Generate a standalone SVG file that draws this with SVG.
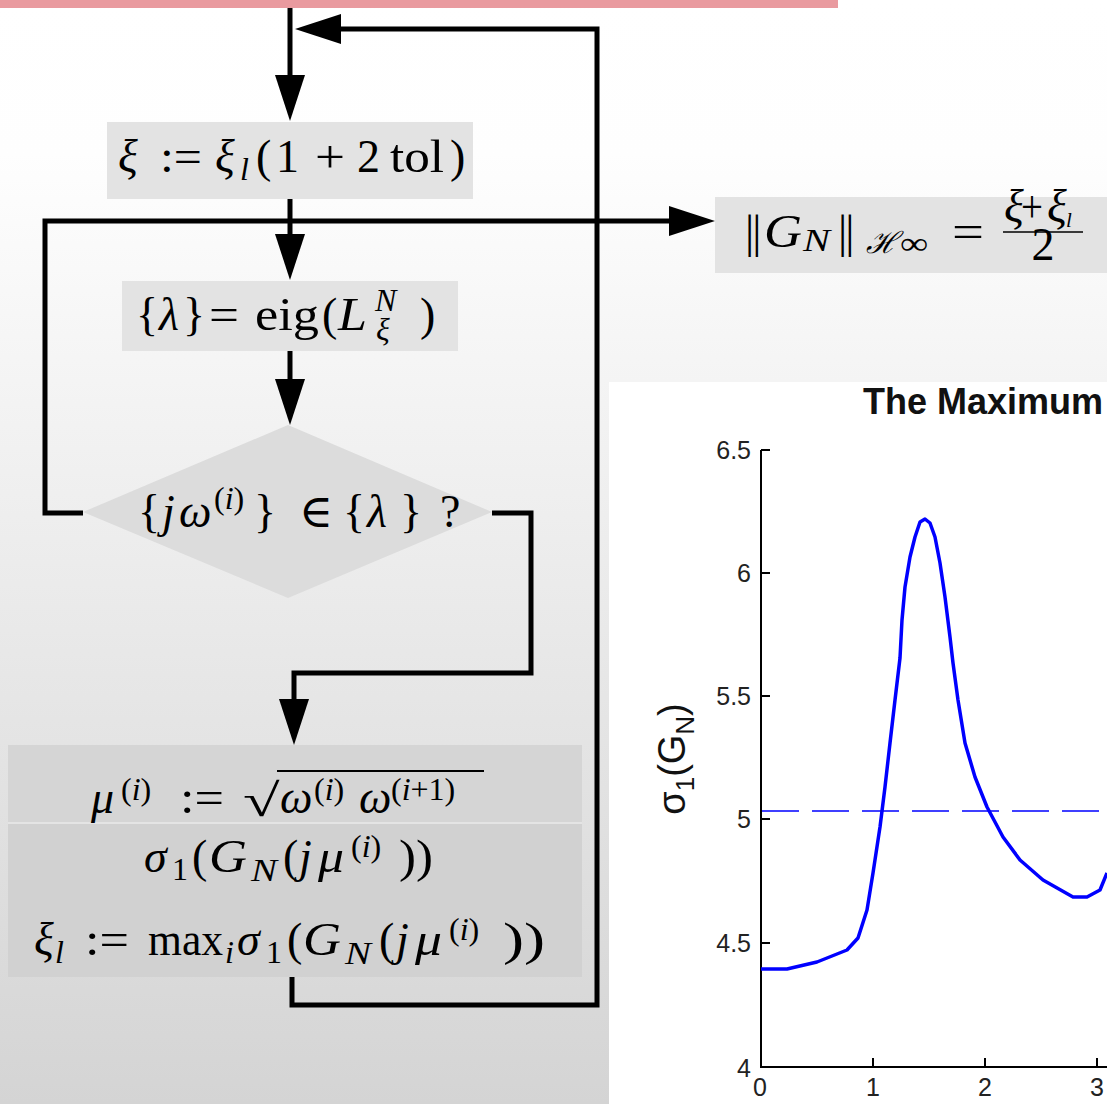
<svg xmlns="http://www.w3.org/2000/svg" width="1107" height="1104" viewBox="0 0 1107 1104">
<defs>
<linearGradient id="bg" x1="0" y1="0" x2="0" y2="1104" gradientUnits="userSpaceOnUse">
<stop offset="0" stop-color="#ffffff"/>
<stop offset="0.14" stop-color="#fefefe"/>
<stop offset="1" stop-color="#d4d4d4"/>
</linearGradient>
<marker id="ah" markerUnits="userSpaceOnUse" markerWidth="46" markerHeight="30" viewBox="0 0 46 30" refX="2" refY="15" orient="auto">
<path d="M0,0 L46,15 L0,30 z" fill="#000"/>
</marker>
<style>
.m { font-family: 'Liberation Serif','DejaVu Serif',serif; font-size: 46px; fill: #000; }
.i { font-style: italic; }
.s { font-size: 32px; }
.conn { fill: none; stroke: #000; stroke-width: 5; stroke-linejoin: miter; }
.box { fill: #e3e3e3; }
.tick { font-family: 'Liberation Sans', Arial, sans-serif; font-size: 25px; fill: #222; }
.ax { stroke: #000; stroke-width: 2; fill: none; }
</style>
</defs>
<rect x="0" y="0" width="1107" height="1104" fill="url(#bg)"/>
<rect x="0" y="0" width="838" height="8" fill="#e99a9f"/>

<g id="plot">
<rect x="609" y="382" width="498" height="722" fill="#ffffff"/>
<text x="863" y="414" font-family="'Liberation Sans', Arial, sans-serif" font-size="36" font-weight="bold" fill="#111">The Maximum</text>
<path class="ax" d="M761,450 V1067 H1107"/>
<path class="ax" d="M761,450 H770 M761,573 H770 M761,696 H770 M761,819 H770 M761,943 H770 M873,1067 V1058 M985,1067 V1058 M1097,1067 V1058"/>
<g class="tick" text-anchor="end">
<text x="751" y="459">6.5</text>
<text x="751" y="582">6</text>
<text x="751" y="705">5.5</text>
<text x="751" y="828">5</text>
<text x="751" y="952">4.5</text>
<text x="751" y="1077">4</text>
</g>
<g class="tick" text-anchor="middle">
<text x="760" y="1096">0</text>
<text x="873" y="1096">1</text>
<text x="985" y="1096">2</text>
<text x="1097" y="1096">3</text>
</g>
<text transform="translate(685,759) rotate(-90)" text-anchor="middle" font-family="'Liberation Sans', Arial, sans-serif" font-size="38" fill="#111">σ<tspan font-size="26" dy="9">1</tspan><tspan dy="-9">(G</tspan><tspan font-size="26" dy="9">N</tspan><tspan dy="-9">)</tspan></text>
<line x1="762" y1="811" x2="1107" y2="811" stroke="#0000ff" stroke-width="1.5" stroke-dasharray="37 13"/>
<polyline fill="none" stroke="#0000ff" stroke-width="3.5" stroke-linejoin="round" points="761,969 787,969 817,962 847,950 858,938 867,910 873,873 880,827 885,787 890,743 895,700 900,658 902,620 905,587 910,557 915,537 920,522 925,519 930,523 935,537 940,563 945,597 950,637 953,663 958,700 965,743 975,777 987,807 1003,837 1020,860 1043,880 1073,897 1087,897 1100,890 1107,873"/>
</g>

<g id="n_init">
<rect class="box" x="107" y="122" width="366" height="77"/>
<text class="m" y="172"><tspan class="i" x="118">ξ</tspan><tspan x="160" textLength="42" lengthAdjust="spacingAndGlyphs">:=</tspan><tspan class="i" x="215">ξ</tspan><tspan class="i s" x="240" y="180">l</tspan><tspan x="256" y="172">(</tspan><tspan x="276">1</tspan><tspan x="315" textLength="30" lengthAdjust="spacingAndGlyphs">+</tspan><tspan x="357">2</tspan><tspan x="390" textLength="54" lengthAdjust="spacingAndGlyphs">tol</tspan><tspan x="450">)</tspan></text>
</g>

<g id="n_eig">
<rect class="box" x="122" y="281" width="336" height="70"/>
<text class="m" y="330"><tspan x="136">{</tspan><tspan class="i" x="159">λ</tspan><tspan x="183">}</tspan><tspan x="209" textLength="30" lengthAdjust="spacingAndGlyphs">=</tspan><tspan x="255" textLength="64" lengthAdjust="spacingAndGlyphs">eig</tspan><tspan x="322">(</tspan><tspan class="i" x="338" textLength="29" lengthAdjust="spacingAndGlyphs">L</tspan><tspan class="i s" x="375" y="311">N</tspan><tspan class="i s" x="376" y="340">ξ</tspan><tspan x="420" y="330">)</tspan></text>
</g>

<g id="n_check">
<polygon points="288,425 492,512 288,598 83,512" fill="#dcdcdc"/>
<text class="m" y="527"><tspan x="138">{</tspan><tspan class="i" x="162">j</tspan><tspan class="i" x="179">ω</tspan><tspan class="s" x="214" y="509">(</tspan><tspan class="s i">i</tspan><tspan class="s">)</tspan><tspan x="254" y="527">}</tspan><tspan x="299">∈</tspan><tspan x="343">{</tspan><tspan class="i" x="367">λ</tspan><tspan x="400">}</tspan><tspan x="440">?</tspan></text>
</g>

<g id="n_out">
<rect class="box" x="715" y="197" width="392" height="76"/>
<text class="m" y="247"><tspan x="745" letter-spacing="-2">||</tspan><tspan class="i" x="764" textLength="38" lengthAdjust="spacingAndGlyphs">G</tspan><tspan class="i s" x="803" y="251" textLength="27" lengthAdjust="spacingAndGlyphs">N</tspan><tspan x="838" y="247" letter-spacing="-2">||</tspan><tspan x="866" y="253" font-family="'DejaVu Serif',serif" font-style="italic" font-size="30">ℋ</tspan><tspan class="s" x="900" y="254" textLength="28" lengthAdjust="spacingAndGlyphs">∞</tspan><tspan x="952" y="247" textLength="32" lengthAdjust="spacingAndGlyphs">=</tspan></text>
<text class="m" font-size="30" y="222"><tspan class="i" x="1004">ξ</tspan><tspan x="1021" textLength="22" lengthAdjust="spacingAndGlyphs">+</tspan><tspan class="i" x="1047">ξ</tspan><tspan class="i" font-size="21" x="1066" y="227">l</tspan></text>
<line x1="1003" y1="232" x2="1083" y2="232" stroke="#000" stroke-width="1.5"/>
<text class="m" font-size="26" x="1043" y="260" text-anchor="middle">2</text>
</g>

<g id="n_update">
<rect x="8" y="745" width="574" height="77" fill="#d5d5d5"/>
<rect x="8" y="822" width="574" height="155" fill="#d1d1d1"/>
<line x1="8" y1="823" x2="582" y2="823" stroke="#e4e4e4" stroke-width="2"/>
<text class="m" y="813"><tspan class="i" x="91">μ</tspan><tspan class="s" x="121" y="800">(</tspan><tspan class="s i">i</tspan><tspan class="s">)</tspan><tspan x="180" y="813" textLength="44" lengthAdjust="spacingAndGlyphs">:=</tspan><tspan class="i" x="280">ω</tspan><tspan class="s" x="314" y="800">(</tspan><tspan class="s i">i</tspan><tspan class="s">)</tspan><tspan class="i" x="359" y="813">ω</tspan><tspan class="s" x="391" y="800">(</tspan><tspan class="s i">i</tspan><tspan class="s">+1)</tspan></text>
<text class="m" transform="translate(243,816) scale(1.45,1)" x="0" y="0" font-size="52">√</text>
<line x1="277" y1="771" x2="484" y2="771" stroke="#000" stroke-width="2"/>
<text class="m" y="872"><tspan class="i" x="144">σ</tspan><tspan class="s" x="172" y="880">1</tspan><tspan x="192" y="872">(</tspan><tspan class="i" x="209" textLength="38" lengthAdjust="spacingAndGlyphs">G</tspan><tspan class="i s" x="251" y="881" textLength="26" lengthAdjust="spacingAndGlyphs">N</tspan><tspan x="283" y="872">(</tspan><tspan class="i" x="299">j</tspan><tspan class="i" x="318" textLength="26" lengthAdjust="spacingAndGlyphs">μ</tspan><tspan class="s" x="351" y="857">(</tspan><tspan class="s i">i</tspan><tspan class="s">)</tspan><tspan x="399" y="872" textLength="34" lengthAdjust="spacingAndGlyphs">))</tspan></text>
<text class="m" y="955"><tspan class="i" x="34">ξ</tspan><tspan class="i s" x="55" y="963">l</tspan><tspan x="85" y="955" textLength="44" lengthAdjust="spacingAndGlyphs">:=</tspan><tspan x="148" textLength="75" lengthAdjust="spacingAndGlyphs">max</tspan><tspan class="i s" x="225" y="963">i</tspan><tspan class="i" x="237" y="955">σ</tspan><tspan class="s" x="266" y="963">1</tspan><tspan x="287" y="955">(</tspan><tspan class="i" x="303" textLength="38" lengthAdjust="spacingAndGlyphs">G</tspan><tspan class="i s" x="345" y="964" textLength="26" lengthAdjust="spacingAndGlyphs">N</tspan><tspan x="379" y="955">(</tspan><tspan class="i" x="396">j</tspan><tspan class="i" x="415" textLength="27" lengthAdjust="spacingAndGlyphs">μ</tspan><tspan class="s" x="449" y="940">(</tspan><tspan class="s i">i</tspan><tspan class="s">)</tspan><tspan x="503" y="955" textLength="42" lengthAdjust="spacingAndGlyphs">))</tspan></text>
</g>

<g id="connectors">
<path class="conn" d="M290,8 V77" marker-end="url(#ah)"/>
<path class="conn" d="M292,977 V1005 H597 V29 H339" marker-end="url(#ah)"/>
<path class="conn" d="M290,199 V236" marker-end="url(#ah)"/>
<path class="conn" d="M290,351 V381" marker-end="url(#ah)"/>
<path class="conn" d="M83,513 H45 V221 H671" marker-end="url(#ah)"/>
<path class="conn" d="M492,513 H531 V673 H294 V701" marker-end="url(#ah)"/>
</g>
</svg>
